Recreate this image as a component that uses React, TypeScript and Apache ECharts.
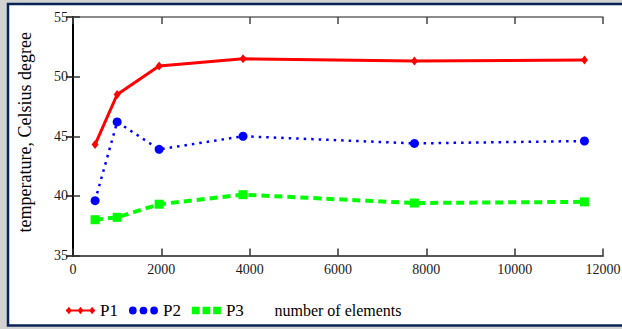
import React, { useEffect, useRef } from "react";
import * as echarts from "echarts";

const xValues = [500, 1000, 1950, 3850, 7730, 11580];
const p1 = [44.3, 48.5, 50.9, 51.5, 51.3, 51.4];
const p2 = [39.6, 46.2, 43.9, 45.0, 44.4, 44.6];
const p3 = [38.0, 38.2, 39.3, 40.1, 39.4, 39.5];
const seriesNames = ["P1", "P2", "P3"];
const xAxisTitle = "number of elements";
const yAxisTitle = "temperature, Celsius degree";

const FONT = "Liberation Serif";

const iconP1 =
  "path://M0,3.5L30,3.5L30,5.5L0,5.5Z M0,4.5L3,0.5L6,4.5L3,8.5Z M12,4.5L15,0.5L18,4.5L15,8.5Z M24,4.5L27,0.5L30,4.5L27,8.5Z";
const iconP2 =
  "path://M0,4.5A4,4 0 1,1 8,4.5A4,4 0 1,1 0,4.5Z M11,4.5A4,4 0 1,1 19,4.5A4,4 0 1,1 11,4.5Z M22,4.5A4,4 0 1,1 30,4.5A4,4 0 1,1 22,4.5Z";
const iconP3 =
  "path://M0,0.5L8,0.5L8,8.5L0,8.5Z M11,0.5L19,0.5L19,8.5L11,8.5Z M22,0.5L30,0.5L30,8.5L22,8.5Z";

export default function App() {
  const ref = useRef<HTMLDivElement>(null);

  useEffect(() => {
    document.body.style.margin = "0";
    if (!ref.current) return;
    const chart = echarts.init(ref.current, null, { renderer: "svg" });

    const pair = (arr: number[]) => xValues.map((x, i) => [x, arr[i]]);

    const tickInside = (color: string) => ({
      show: true,
      inside: true,
      length: 7,
      lineStyle: { color, width: 1.5 },
    });

    chart.setOption({
      animation: false,
      backgroundColor: "transparent",
      grid: {
        left: 73,
        right: 19,
        top: 17,
        bottom: 73.5,
        containLabel: false,
        outerBoundsMode: "none",
      },
      graphic: [
        {
          type: "rect",
          z: -20,
          silent: true,
          shape: { x: 0, y: 0, width: 622, height: 329 },
          style: { fill: "#d2d2d2" },
        },
        {
          type: "rect",
          z: -19,
          silent: true,
          shape: { x: 8, y: 4, width: 640, height: 321.5 },
          style: { fill: "#ffffff", stroke: "#0b2458", lineWidth: 2.5 },
        },
      ],
      legend: {
        left: 66,
        top: 302,
        padding: 0,
        itemWidth: 29,
        itemHeight: 9,
        itemGap: 11,
        selectedMode: false,
        textStyle: { fontFamily: FONT, fontSize: 17, color: "#000" },
        data: [
          { name: seriesNames[0], icon: iconP1 },
          { name: seriesNames[1], icon: iconP2 },
          { name: seriesNames[2], icon: iconP3 },
        ],
      },
      xAxis: [
        {
          type: "value",
          position: "bottom",
          min: 0,
          max: 12000,
          interval: 2000,
          axisLine: { show: true, lineStyle: { color: "#555", width: 2 } },
          axisTick: tickInside("#333"),
          axisLabel: {
            fontFamily: FONT,
            fontSize: 14,
            color: "#1a1a1a",
            margin: 7,
            formatter: (v: number) => String(v),
          },
          splitLine: { show: false },
          name: xAxisTitle,
          nameLocation: "middle",
          nameGap: 47,
          nameTextStyle: { fontFamily: FONT, fontSize: 16, color: "#000" },
        },
        {
          type: "value",
          position: "top",
          min: 0,
          max: 12000,
          interval: 2000,
          axisLine: { show: true, lineStyle: { color: "#666", width: 1.5 } },
          axisTick: tickInside("#444"),
          axisLabel: { show: false },
          splitLine: { show: false },
        },
      ],
      yAxis: [
        {
          type: "value",
          position: "left",
          min: 35,
          max: 55,
          interval: 5,
          axisLine: { show: true, lineStyle: { color: "#666", width: 2 } },
          axisTick: tickInside("#333"),
          axisLabel: {
            fontFamily: FONT,
            fontSize: 14,
            color: "#1a1a1a",
            margin: 5,
            formatter: (v: number) => String(v),
          },
          splitLine: { show: false },
          name: yAxisTitle,
          nameLocation: "middle",
          nameRotate: 90,
          nameGap: 39,
          nameTextStyle: {
            fontFamily: FONT,
            fontSize: 18,
            color: "#000",
            padding: [0, 0, 0, 8],
          },
        },
        {
          type: "value",
          position: "right",
          min: 35,
          max: 55,
          interval: 5,
          axisLine: { show: true, lineStyle: { color: "#000", width: 2 } },
          axisTick: tickInside("#111"),
          axisLabel: { show: false },
          splitLine: { show: false },
        },
      ],
      series: [
        {
          name: seriesNames[0],
          type: "line",
          xAxisIndex: 0,
          yAxisIndex: 0,
          data: pair(p1),
          symbol: "diamond",
          symbolSize: [7, 9],
          itemStyle: { color: "#ff0000" },
          lineStyle: { color: "#ff0000", width: 3 },
        },
        {
          name: seriesNames[1],
          type: "line",
          xAxisIndex: 0,
          yAxisIndex: 0,
          data: pair(p2),
          symbol: "circle",
          symbolSize: 9,
          itemStyle: { color: "#0000ff" },
          lineStyle: { color: "#0000ff", width: 2.5, type: [2.5, 5] },
        },
        {
          name: seriesNames[2],
          type: "line",
          xAxisIndex: 0,
          yAxisIndex: 0,
          data: pair(p3),
          symbol: "rect",
          symbolSize: 9,
          itemStyle: { color: "#00ff00" },
          lineStyle: { color: "#00ff00", width: 4, type: [8, 5] },
        },
      ],
    });

    return () => chart.dispose();
  }, []);

  return <div ref={ref} style={{ width: 622, height: 329 }} />;
}
